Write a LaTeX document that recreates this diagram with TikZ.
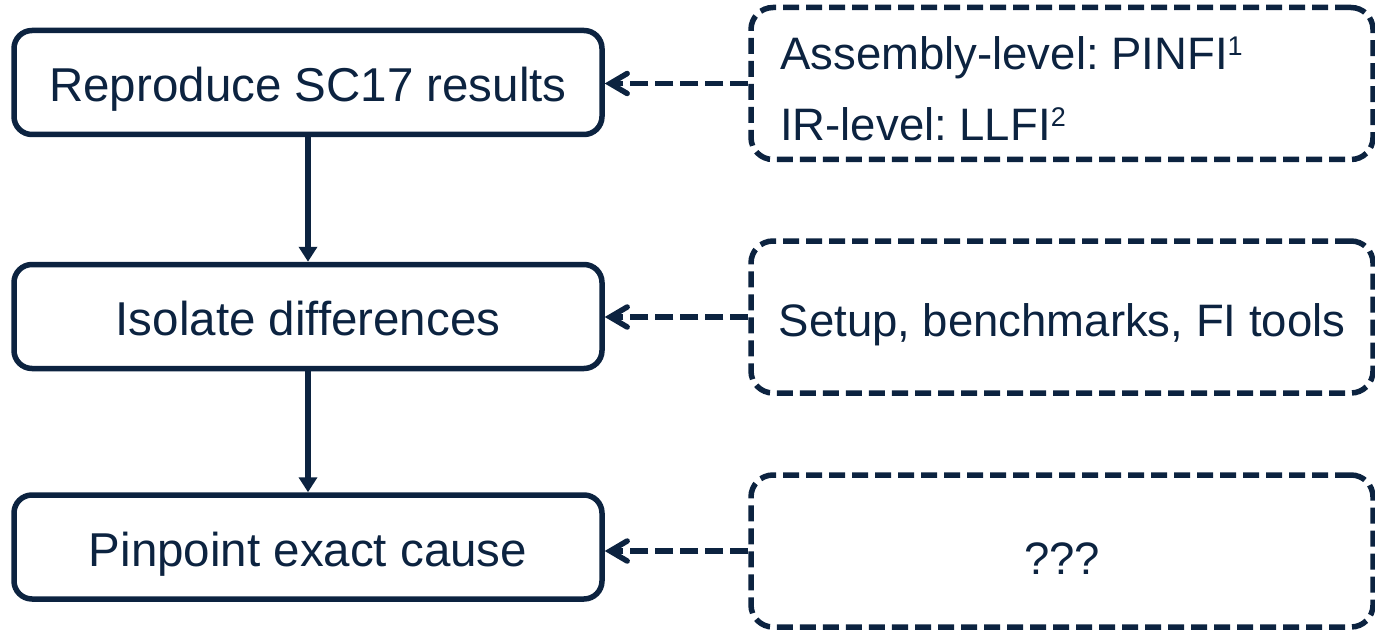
\documentclass[tikz,border=0pt]{standalone}
\usepackage{fontspec}
\setmainfont{Liberation Sans}
\usetikzlibrary{arrows.meta}
\definecolor{navy}{RGB}{12,35,64}
\frenchspacing
% small raised reference numbers, top-aligned with the capitals
\newcommand\refmark[1]{\raisebox{14pt}{\fontsize{27}{30}\selectfont #1}}
\begin{document}
\begin{tikzpicture}[x=1pt,y=-1pt,
  stepbox/.style={draw=navy, text=navy, line width=5.5pt, rounded corners=18pt,
    minimum width=588pt, minimum height=104pt, inner sep=0pt,
    font=\fontsize{47.5}{57}\selectfont, text height=38pt, text depth=0pt},
  notebox/.style={draw=navy, text=navy, line width=5.5pt, rounded corners=22pt,
    dash pattern=on 16pt off 7pt, minimum width=622pt, minimum height=152pt,
    inner sep=0pt, font=\fontsize{45.5}{55}\selectfont, text height=38pt, text depth=0pt},
  notetext/.style={text=navy, anchor=base west, inner sep=0pt,
    font=\fontsize{45.5}{55}\selectfont},
  flow/.style={draw=navy, line width=5.5pt, -{Triangle[length=15pt,width=18pt]}},
  feed/.style={draw=navy, line width=5.5pt, dash pattern=on 18pt off 7pt,
    -{Straight Barb[length=17pt,width=20pt,line cap=round]}}]
\useasboundingbox (0,0) rectangle (1375,631);

% main steps
\node[stepbox] (reproduce) at (308,82.5) {Reproduce SC17 results};
\node[stepbox] (isolate)   at (308,316.5) {Isolate differences};
\node[stepbox] (pinpoint)  at (308,547) {Pinpoint exact cause};

% side notes
\node[notebox] (tools) at (1062,83.5) {};
\node[notetext] (pinfi) at (780,70) {Assembly-level: PINFI\refmark{1}};
\node[notetext] (llfi)  at (780,140.7) {IR-level: LLFI\refmark{2}};
\node[notebox] (setup)   at (1062,317) {Setup, benchmarks, FI tools};
\node[notebox, text height=46pt] (unknown) at (1062,551) {???};

% flow between steps
\draw[flow] (reproduce) -- (isolate);
\draw[flow] (isolate) -- (pinpoint);

% notes feeding the steps
\draw[feed] (tools.west) -- (reproduce.east |- tools.west);
\draw[feed] (setup.west) -- (isolate.east |- setup.west);
\draw[feed] (unknown.west) -- (pinpoint.east |- unknown.west);
\end{tikzpicture}
\end{document}
